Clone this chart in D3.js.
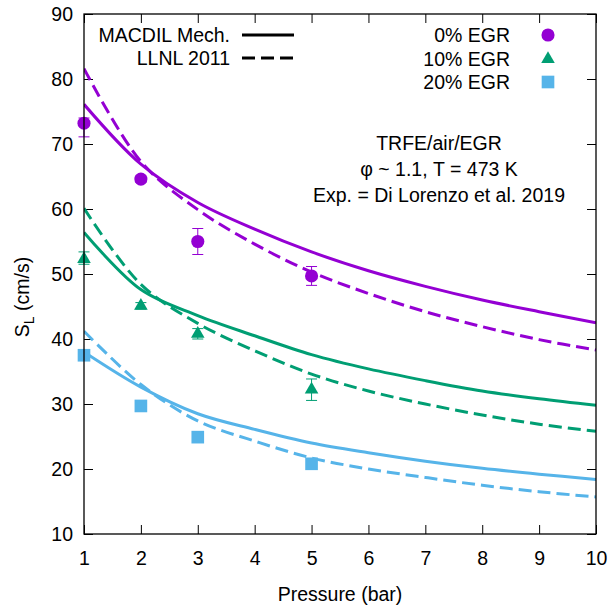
<!DOCTYPE html>
<html>
<head>
<meta charset="utf-8">
<script src="https://cdn.jsdelivr.net/npm/d3@7"></script>
<style>
    body { margin: 0; background: #fff; }
    svg text { font-family: "Liberation Sans", Arial, sans-serif; fill: #000; }
</style>
</head>
<body>
<div id="chart"></div>
<script>
const width = 608;
const height = 607;
const plot = {left: 84, right: 596, top: 14, bottom: 534};

// model curves, read at each integer pressure
const pressures = [1, 2, 3, 4, 5, 6, 7, 8, 9, 10];
const macdil0 = [76.1, 66.9, 61.0, 56.9, 53.4, 50.5, 48.1, 46.0, 44.2, 42.5];
const llnl0 = [81.6, 67.3, 59.9, 54.6, 50.3, 47.0, 44.2, 41.9, 39.9, 38.3];
const macdil10 = [56.4, 47.6, 43.6, 40.5, 37.6, 35.4, 33.6, 32.0, 30.8, 29.8];
const llnl10 = [60.1, 48.4, 42.4, 38.2, 34.6, 32.0, 30.0, 28.3, 26.9, 25.8];
const macdil20 = [38.0, 32.6, 28.5, 26.1, 24.0, 22.5, 21.2, 20.1, 19.2, 18.4];
const llnl20 = [41.2, 33.0, 27.4, 24.3, 21.7, 20.0, 18.7, 17.5, 16.5, 15.7];

// experiments (value, lower and upper error)
const expPressures = [1, 2, 3, 5];
const exp0 = [73.2, 64.6, 55.0, 49.7];
const errLow0 = [2.1, 0.5, 2.0, 1.45];
const errHigh0 = [0.8, 0.5, 2.0, 1.45];
const exp10 = [52.3, 45.1, 40.8, 32.2];
const errLow10 = [0.8, 0.5, 0.8, 1.65];
const errHigh10 = [1.1, 0.5, 0.8, 1.65];
const exp20 = [37.5, 29.7, 24.9, 20.8];
const errLow20 = [0.5, 0.5, 0.5, 0.5];
const errHigh20 = [0.5, 0.5, 0.5, 0.5];

const xTicks = [1, 2, 3, 4, 5, 6, 7, 8, 9, 10];
const yTicks = [10, 20, 30, 40, 50, 60, 70, 80, 90];

const seriesNames = ['0% EGR', '10% EGR', '20% EGR'];
const colors = ['#9400d3', '#009e73', '#56b4e9'];
const symbols = [d3.symbolCircle, d3.symbolTriangle, d3.symbolSquare];
const symbolSizes = [135, 80, 160];

const fontSize = '19.5px';
const dashes = '13,6';

const svg = d3.select('#chart').append('svg')
    .attr('width', width)
    .attr('height', height);

const x = d3.scaleLinear().domain([1, 10]).range([plot.left, plot.right]);
const y = d3.scaleLinear().domain([10, 90]).range([plot.bottom, plot.top]);

svg.append('defs').append('clipPath').attr('id', 'clip')
    .append('rect')
    .attr('x', plot.left).attr('y', plot.top)
    .attr('width', plot.right - plot.left).attr('height', plot.bottom - plot.top);

function styleAxis(g) {
    g.select('.domain').remove();
    g.selectAll('line').attr('stroke', '#000').attr('stroke-width', 1);
    g.selectAll('text').style('font-size', fontSize).attr('fill', '#000');
}

svg.append('g')
    .attr('transform', `translate(0,${plot.bottom})`)
    .call(d3.axisBottom(x).tickValues(xTicks).tickSize(-9).tickPadding(17).tickFormat(d3.format('d')))
    .call(styleAxis);
svg.append('g')
    .attr('transform', `translate(0,${plot.top})`)
    .call(d3.axisTop(x).tickValues(xTicks).tickSize(-9).tickFormat(''))
    .call(styleAxis);
svg.append('g')
    .attr('transform', `translate(${plot.left},0)`)
    .call(d3.axisLeft(y).tickValues(yTicks).tickSize(-9).tickPadding(11).tickFormat(d3.format('d')))
    .call(styleAxis);
svg.append('g')
    .attr('transform', `translate(${plot.right},0)`)
    .call(d3.axisRight(y).tickValues(yTicks).tickSize(-9).tickFormat(''))
    .call(styleAxis);

// model lines
const line = d3.line()
    .x((d, i) => x(pressures[i]))
    .y(d => y(d))
    .curve(d3.curveCatmullRom.alpha(0.5));

const models = [
    {values: macdil0, color: colors[0], dashed: false},
    {values: llnl0, color: colors[0], dashed: true},
    {values: macdil10, color: colors[1], dashed: false},
    {values: llnl10, color: colors[1], dashed: true},
    {values: macdil20, color: colors[2], dashed: false},
    {values: llnl20, color: colors[2], dashed: true}
];

const gLines = svg.append('g').attr('clip-path', 'url(#clip)');
models.forEach(m => {
    gLines.append('path')
        .attr('d', line(m.values))
        .attr('fill', 'none')
        .attr('stroke', m.color)
        .attr('stroke-width', 3)
        .attr('stroke-dasharray', m.dashed ? dashes : null);
});

// experimental points with error bars
const experiments = [
    {values: exp0, low: errLow0, high: errHigh0},
    {values: exp10, low: errLow10, high: errHigh10},
    {values: exp20, low: errLow20, high: errHigh20}
];

const gPts = svg.append('g');
experiments.forEach((s, k) => {
    s.values.forEach((v, i) => {
        const px = x(expPressures[i]);
        const y1 = y(v - s.low[i]);
        const y2 = y(v + s.high[i]);
        const g = gPts.append('g').attr('stroke', colors[k]).attr('stroke-width', 1);
        g.append('line').attr('x1', px).attr('x2', px).attr('y1', y1).attr('y2', y2);
        g.append('line').attr('x1', px - 5.5).attr('x2', px + 5.5).attr('y1', y1).attr('y2', y1);
        g.append('line').attr('x1', px - 5.5).attr('x2', px + 5.5).attr('y1', y2).attr('y2', y2);
    });
    gPts.selectAll(null)
        .data(s.values)
        .join('path')
        .attr('transform', (d, i) => `translate(${x(expPressures[i])},${y(d)})`)
        .attr('d', d3.symbol(symbols[k], symbolSizes[k]))
        .attr('fill', colors[k]);
});

// border
svg.append('rect')
    .attr('x', plot.left).attr('y', plot.top)
    .attr('width', plot.right - plot.left).attr('height', plot.bottom - plot.top)
    .attr('fill', 'none')
    .attr('stroke', '#000')
    .attr('stroke-width', 1.3);

// axis titles
svg.append('text')
    .attr('x', (plot.left + plot.right) / 2)
    .attr('y', 601)
    .attr('text-anchor', 'middle')
    .style('font-size', fontSize)
    .text('Pressure (bar)');

const yTitle = svg.append('text')
    .attr('transform', 'translate(29,297) rotate(-90)')
    .attr('text-anchor', 'middle')
    .style('font-size', fontSize);
yTitle.append('tspan').text('S');
yTitle.append('tspan').attr('dy', 5).style('font-size', '14px').text('L');
yTitle.append('tspan').attr('dy', -5).text(' (cm/s)');

// model legend
const modelLegend = [
    {label: 'MACDIL Mech.', dashed: false, y: 35},
    {label: 'LLNL 2011', dashed: true, y: 58}
];
modelLegend.forEach(d => {
    svg.append('text')
        .attr('x', 230).attr('y', d.y).attr('dy', '0.35em')
        .attr('text-anchor', 'end')
        .style('font-size', fontSize)
        .text(d.label);
    svg.append('line')
        .attr('x1', 242).attr('x2', 294).attr('y1', d.y).attr('y2', d.y)
        .attr('stroke', '#000').attr('stroke-width', 3)
        .attr('stroke-dasharray', d.dashed ? dashes : null);
});

// experiment legend
const legendRows = [35, 59, 82];
seriesNames.forEach((name, k) => {
    svg.append('text')
        .attr('x', 510).attr('y', legendRows[k]).attr('dy', '0.35em')
        .attr('text-anchor', 'end')
        .style('font-size', fontSize)
        .text(name);
    svg.append('path')
        .attr('transform', `translate(548,${legendRows[k]})`)
        .attr('d', d3.symbol(symbols[k], symbolSizes[k]))
        .attr('fill', colors[k]);
});

// conditions label
const notes = ['TRFE/air/EGR', 'φ ~ 1.1, T = 473 K', 'Exp. = Di Lorenzo et al. 2019'];
notes.forEach((t, i) => {
    svg.append('text')
        .attr('x', 439).attr('y', 143 + i * 26).attr('dy', '0.35em')
        .attr('text-anchor', 'middle')
        .style('font-size', fontSize)
        .text(t);
});
</script>
</body>
</html>
